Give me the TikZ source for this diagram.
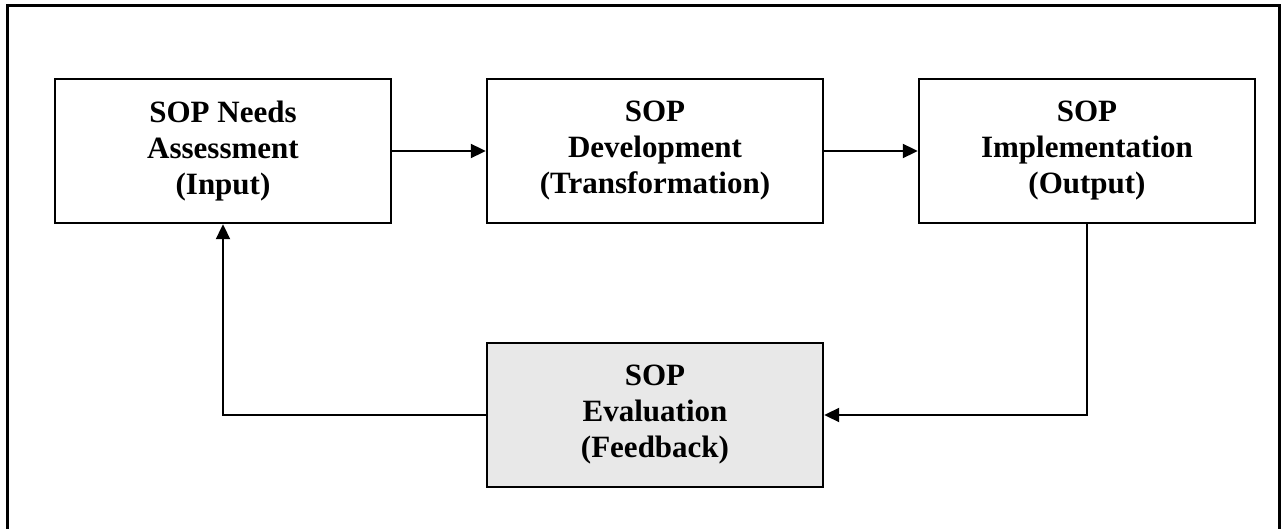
\documentclass[tikz,border=0pt]{standalone}
\usepackage{fontspec}
\setmainfont{Liberation Serif}
\usetikzlibrary{arrows.meta}
\begin{document}
\begin{tikzpicture}[x=1pt,y=-1pt,
  stagebox/.style={draw=black,line width=2.4pt,minimum width=336pt,minimum height=144pt,
    inner sep=0pt,align=center,font=\bfseries\fontsize{31}{36}\selectfont},
  flow/.style={line width=2pt,-{Triangle[length=15pt,width=14pt]}}]
\useasboundingbox (0,0) rectangle (1283,529);
\draw[line width=3pt] (7,540) -- (7,6) -- (1279,6) -- (1279,540);
\node[stagebox] (needs) at (223,151) {SOP Needs\\Assessment\\(Input)};
\node[stagebox] (dev) at (655,151) {SOP\\Development\\(Transformation)};
\node[stagebox] (impl) at (1087,151) {SOP\\Implementation\\(Output)};
\node[stagebox,fill={rgb,255:red,232;green,232;blue,232}] (eval) at (655,415) {SOP\\Evaluation\\(Feedback)};
\draw[flow] (needs.east) -- (dev.west);
\draw[flow] (dev.east) -- (impl.west);
\draw[flow] (impl.south) |- (eval.east);
\draw[flow] (eval.west) -| (needs.south);
\end{tikzpicture}
\end{document}
